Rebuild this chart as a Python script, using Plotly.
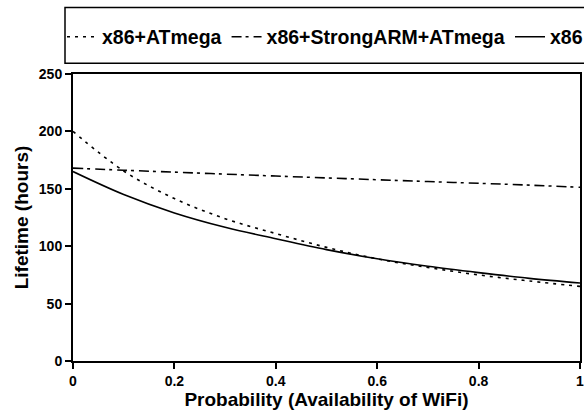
import plotly.graph_objects as go

prob = [0.0, 0.1, 0.2, 0.3, 0.4, 0.5, 0.6, 0.7, 0.8, 0.9, 1.0]
x86_atmega = [200, 165.5, 141.5, 124, 111, 99, 89, 81.5, 75, 69.7, 65]
x86_strongarm_atmega = [168, 166.2, 164.5, 162.8, 161.1, 159.5, 157.9, 156.3, 154.8, 153.2, 151.3]
x86_only = [165, 145, 129, 116.5, 106.5, 97, 89, 82.5, 77, 72, 68]

names = ["x86+ATmega", "x86+StrongARM+ATmega", "x86"]
dashes = ["3px,5px", "10px,4px,3px,5px", "solid"]
series = [x86_atmega, x86_strongarm_atmega, x86_only]
legend_ids = ["legend", "legend", "legend2"]

x_ticks = [0, 0.2, 0.4, 0.6, 0.8, 1]
x_tick_labels = ["0", "0.2", "0.4", "0.6", "0.8", "1"]
y_ticks = [0, 50, 100, 150, 200, 250]
y_tick_labels = ["0", "50", "100", "150", "200", "250"]

W, H = 584, 416
L, R, T, B = 73, 4, 74, 55
PW, PH = W - L - R, H - T - B

fig = go.Figure()
for n, d, s, lg in zip(names, dashes, series, legend_ids):
    fig.add_trace(go.Scatter(x=prob, y=s, name="<b>" + n + "</b>", mode="lines", legend=lg,
                             line=dict(color="black", width=1.6, dash=d, shape="spline")))

FF = "Liberation Sans, Arial, sans-serif"
leg_common = dict(orientation="h", xref="container", yref="container",
                  xanchor="left", y=1 - 37 / H, yanchor="middle",
                  font=dict(size=19.5, family=FF, color="black"),
                  bgcolor="rgba(0,0,0,0)", borderwidth=0, itemwidth=30)
fig.update_layout(
    width=W, height=H,
    margin=dict(l=L, r=R, t=T, b=B, autoexpand=False),
    plot_bgcolor="white", paper_bgcolor="white",
    font=dict(family=FF, color="black"),
    showlegend=True,
    legend=dict(x=62 / W, **leg_common),
    legend2=dict(x=510 / W, **leg_common),
    shapes=[dict(type="rect", xref="paper", yref="paper",
                 x0=(65 - L) / PW, x1=(610 - L) / PW,
                 y0=(H - B - 63.3) / PH, y1=(H - B - 7.5) / PH,
                 line=dict(color="black", width=1.5), fillcolor="rgba(0,0,0,0)")],
)
fig.update_xaxes(range=[0, 1], tickvals=x_ticks, ticktext=["<b>%s</b>" % t for t in x_tick_labels],
                 showgrid=False, zeroline=False, showline=True, linecolor="black", linewidth=2,
                 mirror=True, ticks="outside", ticklen=6, tickwidth=2, tickcolor="black",
                 tickfont=dict(size=14), automargin=False, ticklabeloverflow="allow",
                 title=dict(text="<b>Probability (Availability of WiFi)</b>", font=dict(size=19), standoff=3))
fig.update_yaxes(range=[0, 250], tickvals=y_ticks, ticktext=["<b>%s</b>" % t for t in y_tick_labels],
                 showgrid=False, zeroline=False, showline=True, linecolor="black", linewidth=2,
                 mirror=True, ticks="outside", ticklen=6, tickwidth=2, tickcolor="black",
                 tickfont=dict(size=14), automargin=False, ticklabeloverflow="allow",
                 title=dict(text="<b>Lifetime (hours)</b>", font=dict(size=19), standoff=5))

# remove the default 8px page margin so the figure fills the window exactly
fig.write_html("out.html", config={"displayModeBar": False},
               post_script="document.body.style.margin='0';")
